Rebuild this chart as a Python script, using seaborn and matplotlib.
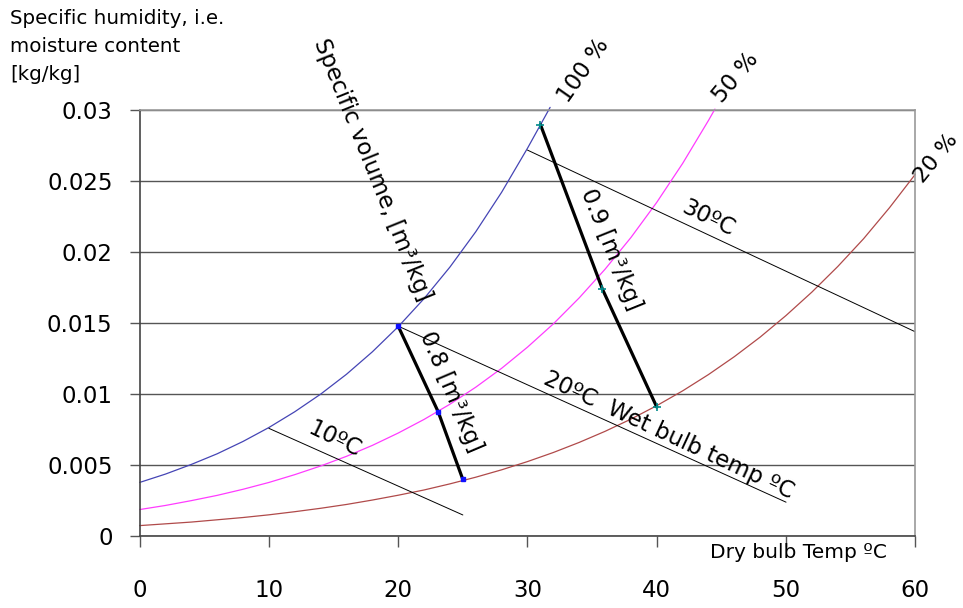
import numpy as np
import pandas as pd
import seaborn as sns
import matplotlib
matplotlib.use("Agg")
import matplotlib.pyplot as plt

## Relative humidity curves (dry bulb temp [C] -> moisture content [kg/kg])
t_100 = [0, 2, 4, 6, 8, 10, 12, 14, 16, 18, 20, 22, 24, 26, 28, 30, 31.75]
w_100 = [0.00379, 0.00438, 0.00506, 0.00581, 0.00668, 0.00766, 0.00877, 0.01001,
         0.01141, 0.01299, 0.01476, 0.01674, 0.01896, 0.02145, 0.02423, 0.02733, 0.03021]

t_50 = [0, 2, 4, 6, 8, 10, 12, 14, 16, 18, 20, 22, 24, 26, 28, 30, 32, 34, 36, 38, 40, 42, 44, 44.5]
w_50 = [0.00188, 0.00217, 0.00251, 0.00288, 0.00331, 0.00379, 0.00434, 0.00495,
        0.00563, 0.00640, 0.00727, 0.00823, 0.00930, 0.01050, 0.01183, 0.01332,
        0.01496, 0.01679, 0.01881, 0.02104, 0.02352, 0.02626, 0.02929, 0.03009]

t_20 = [0, 4, 8, 10, 12, 14, 16, 18, 20, 22, 24, 26, 28, 30, 32, 34, 36, 38, 40,
        42, 44, 46, 48, 50, 52, 54, 56, 58, 60]
w_20 = [0.00075, 0.00100, 0.00132, 0.00151, 0.00173, 0.00197, 0.00224, 0.00255,
        0.00289, 0.00326, 0.00369, 0.00416, 0.00468, 0.00526, 0.00590, 0.00661,
        0.00739, 0.00825, 0.00920, 0.01024, 0.01139, 0.01265, 0.01403, 0.01555,
        0.01720, 0.01900, 0.02096, 0.02314, 0.02550]

## Wet bulb lines
wb_10_t = [10, 25]
wb_10_w = [0.0076, 0.0015]
wb_20_t = [20, 50]
wb_20_w = [0.0148, 0.0024]
wb_30_t = [30, 60]
wb_30_w = [0.0272, 0.0144]

## Specific volume lines
sv_08_t = [20, 23.1, 25]
sv_08_w = [0.0148, 0.00875, 0.0040]
sv_09_t = [31, 35.8, 40]
sv_09_w = [0.0290, 0.0174, 0.0091]

x_ticks = [0, 10, 20, 30, 40, 50, 60]
y_ticks = [0, 0.005, 0.01, 0.015, 0.02, 0.025, 0.03]
y_ticklabels = ["0", "0.005", "0.01", "0.015", "0.02", "0.025", "0.03"]

rh = pd.DataFrame({
    "t": t_100 + t_50 + t_20,
    "w": w_100 + w_50 + w_20,
    "rh": ["100 %"] * len(t_100) + ["50 %"] * len(t_50) + ["20 %"] * len(t_20),
})

sns.set_style("white")
plt.rcParams["font.family"] = ["DejaVu Sans"]
plt.rcParams["text.color"] = "black"
plt.rcParams["xtick.color"] = "black"
plt.rcParams["ytick.color"] = "black"

fig = plt.figure(figsize=(9.63, 6.08), dpi=100)
ax = fig.add_axes([0.145, 0.118, 0.8055, 0.7005])

palette = {"100 %": "#4545b5", "50 %": "#ff3cff", "20 %": "#b04a4a"}
sns.lineplot(data=rh, x="t", y="w", hue="rh", palette=palette, linewidth=0.9,
             legend=False, ax=ax, sort=False)
for line in ax.get_lines():
    line.set_clip_on(False)

# wet bulb lines
for tt, ww in [(wb_10_t, wb_10_w), (wb_20_t, wb_20_w), (wb_30_t, wb_30_w)]:
    ax.plot(tt, ww, color="black", lw=0.7)

# specific volume lines
ax.plot(sv_08_t, sv_08_w, color="black", lw=2.3, zorder=4)
ax.plot(sv_08_t, sv_08_w, ls="none", marker="s", ms=3.5, color="#1010ff", zorder=5)
ax.plot(sv_09_t, sv_09_w, color="black", lw=2.3, zorder=4)
ax.plot(sv_09_t, sv_09_w, ls="none", marker="+", ms=6, mew=1.2, color="#008b8b", zorder=5)

ax.set_xlim(0, 60)
ax.set_ylim(0, 0.03)
ax.set_xticks(x_ticks)
ax.set_xticklabels([str(v) for v in x_ticks])
ax.set_yticks(y_ticks)
ax.set_yticklabels(y_ticklabels)
ax.set_xlabel("")
ax.set_ylabel("")
ax.grid(axis="y", color="#555555", lw=1)
ax.grid(axis="x", visible=False)
ax.tick_params(axis="y", direction="out", length=7.5, width=1, color="#555555",
               labelcolor="black", pad=12, labelsize=16.5)
ax.tick_params(axis="x", direction="out", length=8, width=1, color="#555555",
               labelcolor="black", pad=23, labelsize=16.5)
ax.tick_params(left=True, bottom=True)
for side in ["left", "bottom"]:
    ax.spines[side].set_color("#444444")
for side in ["top", "right"]:
    ax.spines[side].set_color("#999999")
for sp in ax.spines.values():
    sp.set_linewidth(1.2)

# labels
fig.text(10 / 963, 1 - 9 / 608, "Specific humidity, i.e.\nmoisture content\n[kg/kg]",
         ha="left", va="top", fontsize=14.3, linespacing=1.6)
fig.text(798 / 963, 1 - 553 / 608, "Dry bulb Temp ºC", ha="center", va="center",
         fontsize=14.5)

kw = dict(ha="center", va="center", rotation_mode="anchor", clip_on=False, fontsize=16.5)
ax.text(17.97, 0.0258, "Specific volume, [m³/kg]", rotation=-68, **kw)
ax.text(34.3, 0.0328, "100 %", rotation=55, **kw)
ax.text(46.1, 0.0323, "50 %", rotation=50, **kw)
ax.text(61.65, 0.0266, "20 %", rotation=51, fontsize=16, ha="center", va="center",
        rotation_mode="anchor", clip_on=False)
ax.text(43.96, 0.0224, "30ºC", rotation=-26, **kw)
ax.text(36.45, 0.0202, "0.9 [m³/kg]", rotation=-68, **kw)
ax.text(24.08, 0.0102, "0.8 [m³/kg]", rotation=-67, **kw)
ax.text(15.1, 0.0068, "10ºC", rotation=-26, **kw)
ax.text(40.9, 0.0071, "20ºC  Wet bulb temp ºC", rotation=-25, **kw)

fig.savefig("out.png", dpi=100)
